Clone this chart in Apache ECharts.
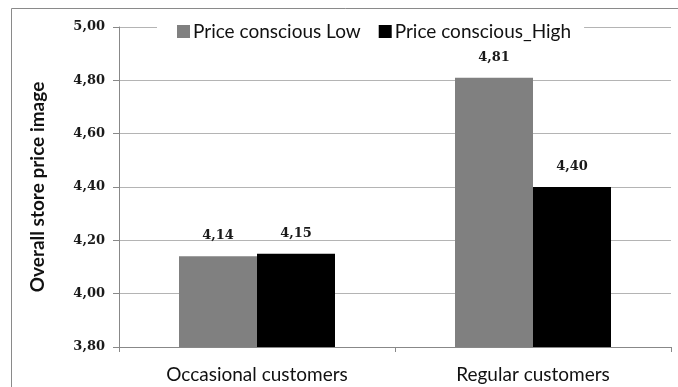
<!DOCTYPE html>
<html>
<head>
<meta charset="utf-8">
<script src="https://cdn.jsdelivr.net/npm/echarts@6/dist/echarts.min.js"></script>
<style>
  html, body { margin: 0; padding: 0; background: #fff; }
  #chart { width: 678px; height: 387px; }
</style>
</head>
<body>
<div id="chart"></div>
<script>
// Customer groups on the x axis
const categories = ['Occasional customers', 'Regular customers'];
// Mean overall store price image per price-consciousness group
const seriesNames = ['Price conscious Low', 'Price conscious_High'];
const lowValues = [4.14, 4.81];
const highValues = [4.15, 4.40];
// Value axis range and step
const yMin = 3.8;
const yMax = 5.0;
const yStep = 0.2;

const comma = v => v.toFixed(2).replace('.', ',');

const chart = echarts.init(document.getElementById('chart'), null, { renderer: 'canvas' });

const labelStyle = {
  show: true,
  position: 'top',
  distance: 14,
  fontFamily: 'DejaVu Serif',
  fontWeight: 'bold',
  fontSize: 13,
  color: '#1a1a1a',
  formatter: p => comma(p.value)
};

chart.setOption({
  animation: false,
  backgroundColor: '#fff',
  graphic: [{
    type: 'rect',
    silent: true,
    z: -1,
    shape: { x: 11.5, y: 8.5, width: 700, height: 400 },
    style: { fill: 'none', stroke: '#8a8a8a', lineWidth: 1 }
  }],
  grid: { left: 119, right: 7, top: 27, bottom: 40, containLabel: false },
  legend: {
    data: seriesNames,
    left: 157,
    top: 19,
    backgroundColor: '#fff',
    padding: [3, 13, 3, 20],
    itemGap: 18,
    itemWidth: 13,
    itemHeight: 13,
    icon: 'rect',
    textStyle: { fontFamily: 'Lato', fontSize: 19, color: '#111', padding: [0, 0, 0, -2] },
    z: 10
  },
  xAxis: {
    type: 'category',
    data: categories,
    axisLine: { lineStyle: { color: '#888', width: 1 } },
    axisTick: { show: true, length: 5, lineStyle: { color: '#888' } },
    axisLabel: { fontFamily: 'Lato', fontSize: 19, color: '#111', margin: 18 }
  },
  yAxis: {
    type: 'value',
    min: yMin,
    max: yMax,
    interval: yStep,
    name: 'Overall store price image',
    nameLocation: 'middle',
    nameGap: 72,
    nameTextStyle: { fontFamily: 'Lato', fontWeight: 'bold', fontSize: 19, color: '#111' },
    axisLine: { show: true, lineStyle: { color: '#888', width: 1 } },
    axisTick: { show: true, length: 6, lineStyle: { color: '#888' } },
    axisLabel: {
      fontFamily: 'DejaVu Serif', fontWeight: 'bold', fontSize: 13, color: '#1a1a1a', margin: 14,
      formatter: v => comma(v)
    },
    splitLine: { show: true, lineStyle: { color: '#b4b4b4', width: 1 } }
  },
  series: [
    {
      name: seriesNames[0],
      type: 'bar',
      data: lowValues,
      barWidth: 78,
      barGap: '0%',
      itemStyle: { color: '#808080' },
      label: labelStyle
    },
    {
      name: seriesNames[1],
      type: 'bar',
      data: highValues,
      barWidth: 78,
      barGap: '0%',
      itemStyle: { color: '#000000' },
      label: labelStyle
    }
  ]
});
</script>
</body>
</html>
